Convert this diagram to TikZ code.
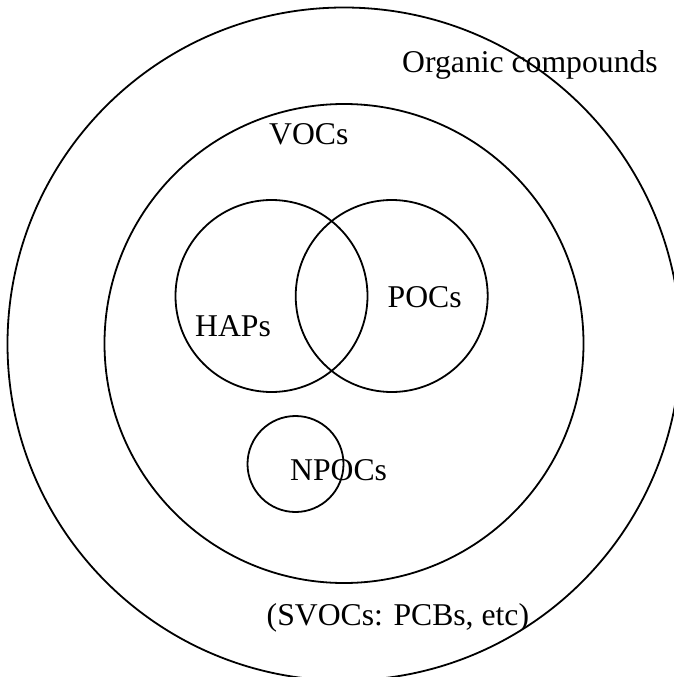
\documentclass[tikz,border=0pt]{standalone}
\usepackage{fontspec}
\setmainfont{Liberation Serif}
\begin{document}
\begin{tikzpicture}[x=1pt,y=-1pt,
  ring/.style={draw, line width=1.8pt, circle, inner sep=0pt},
  lbl/.style={anchor=base west, inner sep=0pt, font=\fontsize{31.7}{32}\selectfont}]
\useasboundingbox (0,0) rectangle (674,677);
\clip (0,0) rectangle (674,677);
\node[ring, minimum size=673pt] (org) at (344,344) {};
\node[ring, minimum size=479pt] (vocs) at (344,343.5) {};
\node[ring, minimum size=192pt] (haps) at (271.5,296) {};
\node[ring, minimum size=192pt] (pocs) at (391.7,296) {};
\node[ring, minimum size=96pt] (npocs) at (295.5,464) {};
\node[lbl] (torg) at (402,73) {Organic compounds};
\node[lbl] (tvocs) at (269,144.5) {VOCs};
\node[lbl] (thaps) at (195,336.5) {HAPs};
\node[lbl] (tpocs) at (387.5,307) {POCs};
\node[lbl] (tnpocs) at (290,480.5) {NPOCs};
\node[lbl] (tsvocs) at (266.5,625.5) {(SVOCs: PCBs, etc)};
\end{tikzpicture}
\end{document}
